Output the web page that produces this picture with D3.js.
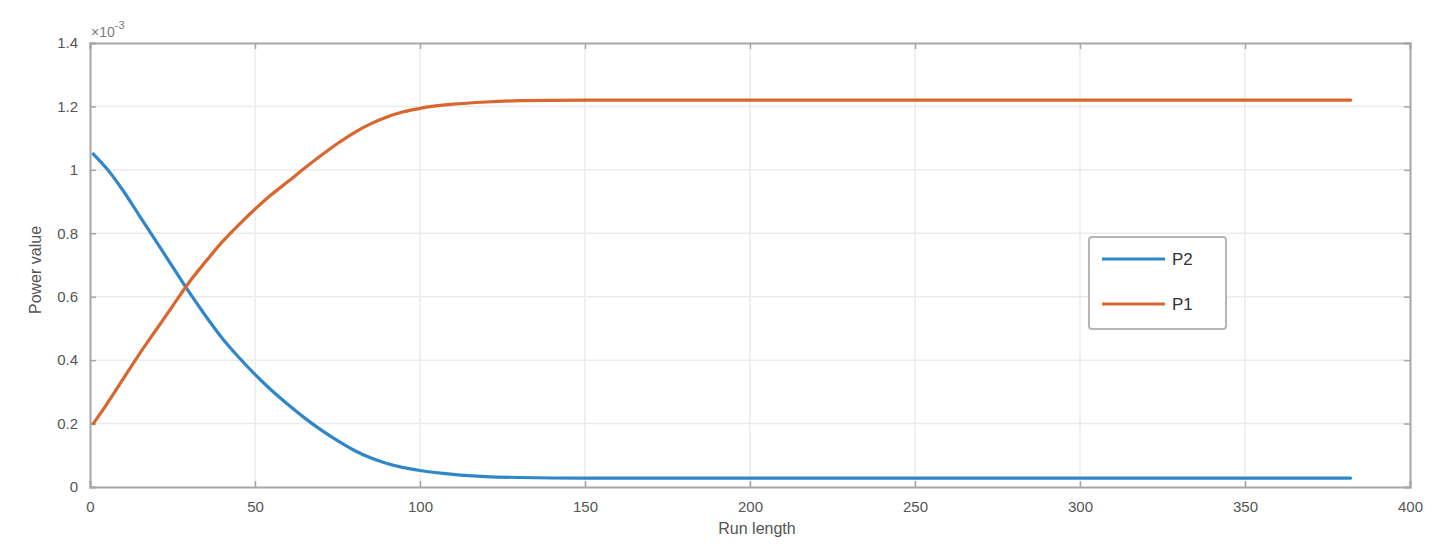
<!DOCTYPE html>
<html lang="en">
<head>
<meta charset="UTF-8" />
<title>Power value vs run length</title>
<script src="https://d3js.org/d3.v7.min.js"></script>
<style>
  body { margin: 0; background: #fff; font-family: 'Liberation Sans', Arial, sans-serif; }
  svg { display: block; }
  .tick text { fill: #555; font-size: 15px; }
</style>
</head>
<body>
<svg id="chart" width="1452" height="548"></svg>
<script>
// run length samples (x) and the two power curves, in units of 1e-3
const runLength = [1, 5, 10, 15, 20, 25, 30, 35, 40, 45, 50, 55, 60, 65, 70, 75, 80, 85, 90, 95, 100, 110, 120, 130, 150, 200, 250, 300, 350, 382];
const p2 = [1.05, 1.005, 0.935, 0.855, 0.775, 0.695, 0.615, 0.54, 0.47, 0.41, 0.355, 0.305, 0.26, 0.218, 0.18, 0.146, 0.116, 0.092, 0.074, 0.061, 0.052, 0.040, 0.033, 0.030, 0.028, 0.028, 0.028, 0.028, 0.028, 0.028];
const p1 = [0.20, 0.26, 0.34, 0.42, 0.495, 0.57, 0.645, 0.71, 0.772, 0.826, 0.876, 0.922, 0.963, 1.005, 1.045, 1.083, 1.117, 1.145, 1.167, 1.183, 1.194, 1.207, 1.214, 1.218, 1.22, 1.22, 1.22, 1.22, 1.22, 1.22];
const xTicks = [0, 50, 100, 150, 200, 250, 300, 350, 400];
const yTicks = [0, 0.2, 0.4, 0.6, 0.8, 1, 1.2, 1.4];
const seriesNames = ["P2", "P1"];
const seriesColors = ["#2f86c8", "#d9662e"];

const svg = d3.select("#chart");
const m = { left: 90, right: 1410, top: 43, bottom: 487 };

const x = d3.scaleLinear().domain([0, 400]).range([m.left, m.right]);
const y = d3.scaleLinear().domain([0, 1.4]).range([m.bottom, m.top]);

// grid
svg.append("g").selectAll("line").data(xTicks.slice(1, -1)).join("line")
  .attr("x1", d => x(d)).attr("x2", d => x(d))
  .attr("y1", m.top).attr("y2", m.bottom)
  .attr("stroke", "#ebebeb").attr("stroke-width", 1.5);
svg.append("g").selectAll("line").data(yTicks.slice(1, -1)).join("line")
  .attr("x1", m.left).attr("x2", m.right)
  .attr("y1", d => y(d)).attr("y2", d => y(d))
  .attr("stroke", "#ebebeb").attr("stroke-width", 1.5);

// axes (MATLAB style: ticks inside, box on)
const axColor = "#a6a6a6";
const fmt = d => d3.format("~g")(d);
svg.append("g").attr("transform", `translate(0,${m.bottom})`)
  .call(d3.axisBottom(x).tickValues(xTicks).tickFormat(fmt).tickSize(-6).tickPadding(14));
svg.append("g").attr("transform", `translate(${m.left},0)`)
  .call(d3.axisLeft(y).tickValues(yTicks).tickFormat(fmt).tickSize(-6).tickPadding(12));
svg.append("g").attr("transform", `translate(0,${m.top})`)
  .call(d3.axisTop(x).tickValues(xTicks).tickFormat("").tickSize(-6));
svg.append("g").attr("transform", `translate(${m.right},0)`)
  .call(d3.axisRight(y).tickValues(yTicks).tickFormat("").tickSize(-6));
svg.selectAll(".domain").attr("stroke", axColor).attr("stroke-width", 2);
svg.selectAll(".tick line").attr("stroke", axColor).attr("stroke-width", 1.5);

// lines
const series = [p2, p1];
const line = d3.line().x(d => x(d[0])).y(d => y(d[1])).curve(d3.curveMonotoneX);
series.forEach((vals, i) => {
  svg.append("path")
    .datum(runLength.map((r, j) => [r, vals[j]]))
    .attr("fill", "none")
    .attr("stroke", seriesColors[i])
    .attr("stroke-width", 3.2)
    .attr("stroke-linecap", "round")
    .attr("d", line);
});

// exponent label
const exp = svg.append("text").attr("x", 91).attr("y", 37)
  .attr("fill", "#7a7a7a").attr("font-size", 14);
exp.append("tspan").text("×10");
exp.append("tspan").attr("dy", -8).attr("font-size", 11).text("-3");

// axis labels
svg.append("text").attr("x", 757).attr("y", 534).attr("text-anchor", "middle")
  .attr("fill", "#555").attr("font-size", 16).text("Run length");
svg.append("text").attr("transform", "translate(41,270) rotate(-90)")
  .attr("text-anchor", "middle").attr("fill", "#555").attr("font-size", 16).text("Power value");

// legend
const lg = svg.append("g");
lg.append("rect").attr("x", 1089).attr("y", 237).attr("width", 137).attr("height", 92)
  .attr("rx", 3).attr("fill", "#fff").attr("stroke", "#b5b5b5").attr("stroke-width", 2);
seriesNames.forEach((name, i) => {
  const yy = 259 + i * 45;
  lg.append("line").attr("x1", 1102).attr("x2", 1165).attr("y1", yy).attr("y2", yy)
    .attr("stroke", seriesColors[i]).attr("stroke-width", 3.2);
  lg.append("text").attr("x", 1172).attr("y", yy + 6).attr("fill", "#333")
    .attr("font-size", 17).text(name);
});
</script>
</body>
</html>
